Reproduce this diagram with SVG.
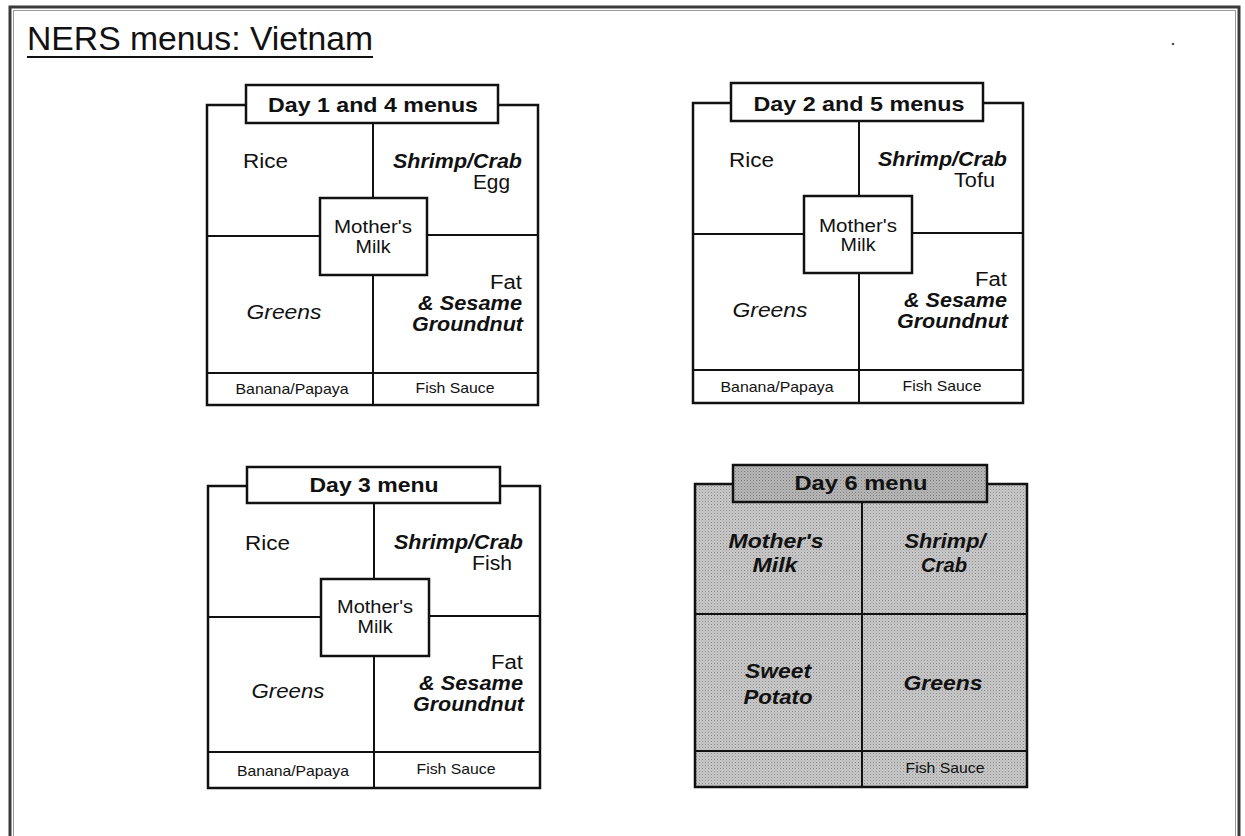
<svg xmlns="http://www.w3.org/2000/svg" width="1245" height="836" viewBox="0 0 1245 836">
<style>
.t{font-family:"Liberation Sans",Arial,Helvetica,sans-serif;fill:#111}
.b{font-weight:bold}
.i{font-style:italic}
.bi{font-weight:bold;font-style:italic}
.body{font-size:19.5px}
.sm{font-size:15px}
.mm{font-size:17.5px}
.hd{font-size:20.5px;font-weight:bold}
.frame{fill:#fff;stroke:#111;stroke-width:2.5}
.gframe{fill:url(#dots);stroke:#111;stroke-width:2.5}
.ln{stroke:#111;stroke-width:2;fill:none}
</style>
<defs>
<pattern id="dots" width="3" height="3" patternUnits="userSpaceOnUse">
<rect width="3" height="3" fill="#c8c8c8"/>
<rect x="0" y="0" width="1" height="1" fill="#8c8c8c"/>
<rect x="1.5" y="1.5" width="1" height="1" fill="#a8a8a8"/>
</pattern>
<pattern id="dots2" width="3" height="3" patternUnits="userSpaceOnUse">
<rect width="3" height="3" fill="#b6b6b6"/>
<rect x="0" y="0" width="1" height="1" fill="#7c7c7c"/>
<rect x="1.5" y="1.5" width="1" height="1" fill="#959595"/>
</pattern>
</defs>
<rect width="1245" height="836" fill="#fff"/>
<g id="page-frame">
<rect x="10" y="7" width="1229" height="845" fill="none" stroke="#3a3a3a" stroke-width="3"/>
<rect x="13.5" y="10.5" width="1222" height="840" fill="none" stroke="#999" stroke-width="1"/>
<circle cx="1173" cy="44" r="1.3" fill="#555"/>
</g>
<g id="title">
<text class="t" x="27" y="50" font-size="34" textLength="346" lengthAdjust="spacingAndGlyphs">NERS menus: Vietnam</text>
<line x1="27" y1="57" x2="373" y2="57" stroke="#111" stroke-width="2"/>
</g>

<g id="panel-day1-4">
<rect class="frame" x="207" y="105" width="331" height="300"/>
<g class="connectors">
<line class="ln" x1="373" y1="123" x2="373" y2="198"/>
<line class="ln" x1="373" y1="275" x2="373" y2="405"/>
<line class="ln" x1="207" y1="236" x2="320" y2="236"/>
<line class="ln" x1="427" y1="235" x2="538" y2="235"/>
<line class="ln" x1="207" y1="373" x2="538" y2="373"/>
</g>
<rect class="frame" x="320" y="198" width="107" height="77"/>
<rect class="frame" x="246" y="85" width="252" height="38"/>
<text class="t hd" x="373" y="112" text-anchor="middle" textLength="210" lengthAdjust="spacingAndGlyphs">Day 1 and 4 menus</text>
<text class="t body" x="243" y="168" textLength="45" lengthAdjust="spacingAndGlyphs">Rice</text>
<text class="t body bi" x="522" y="168" text-anchor="end" textLength="129" lengthAdjust="spacingAndGlyphs">Shrimp/Crab</text>
<text class="t body" x="510" y="189" text-anchor="end" textLength="37" lengthAdjust="spacingAndGlyphs">Egg</text>
<text class="t mm" x="373" y="233" text-anchor="middle" textLength="78" lengthAdjust="spacingAndGlyphs">Mother's</text>
<text class="t mm" x="373" y="253" text-anchor="middle" textLength="35" lengthAdjust="spacingAndGlyphs">Milk</text>
<text class="t body i" x="284" y="319" text-anchor="middle" textLength="75" lengthAdjust="spacingAndGlyphs">Greens</text>
<text class="t body" x="522" y="289" text-anchor="end" textLength="32" lengthAdjust="spacingAndGlyphs">Fat</text>
<text class="t body bi" x="522" y="310" text-anchor="end" textLength="104" lengthAdjust="spacingAndGlyphs">&amp; Sesame</text>
<text class="t body bi" x="523" y="331" text-anchor="end" textLength="111" lengthAdjust="spacingAndGlyphs">Groundnut</text>
<text class="t sm" x="292" y="394" text-anchor="middle" textLength="113" lengthAdjust="spacingAndGlyphs">Banana/Papaya</text>
<text class="t sm" x="455" y="393" text-anchor="middle" textLength="79" lengthAdjust="spacingAndGlyphs">Fish Sauce</text>
</g>

<g id="panel-day2-5">
<rect class="frame" x="693" y="103" width="330" height="300"/>
<g class="connectors">
<line class="ln" x1="859" y1="121" x2="859" y2="196"/>
<line class="ln" x1="859" y1="273" x2="859" y2="403"/>
<line class="ln" x1="693" y1="234" x2="804" y2="234"/>
<line class="ln" x1="912" y1="233" x2="1023" y2="233"/>
<line class="ln" x1="693" y1="370" x2="1023" y2="370"/>
</g>
<rect class="frame" x="804" y="196" width="108" height="77"/>
<rect class="frame" x="731" y="83" width="252" height="38"/>
<text class="t hd" x="859" y="111" text-anchor="middle" textLength="211" lengthAdjust="spacingAndGlyphs">Day 2 and 5 menus</text>
<text class="t body" x="729" y="167" textLength="45" lengthAdjust="spacingAndGlyphs">Rice</text>
<text class="t body bi" x="1007" y="166" text-anchor="end" textLength="129" lengthAdjust="spacingAndGlyphs">Shrimp/Crab</text>
<text class="t body" x="995" y="187" text-anchor="end" textLength="41" lengthAdjust="spacingAndGlyphs">Tofu</text>
<text class="t mm" x="858" y="232" text-anchor="middle" textLength="78" lengthAdjust="spacingAndGlyphs">Mother's</text>
<text class="t mm" x="858" y="251" text-anchor="middle" textLength="35" lengthAdjust="spacingAndGlyphs">Milk</text>
<text class="t body i" x="770" y="317" text-anchor="middle" textLength="75" lengthAdjust="spacingAndGlyphs">Greens</text>
<text class="t body" x="1007" y="286" text-anchor="end" textLength="32" lengthAdjust="spacingAndGlyphs">Fat</text>
<text class="t body bi" x="1007" y="307" text-anchor="end" textLength="103" lengthAdjust="spacingAndGlyphs">&amp; Sesame</text>
<text class="t body bi" x="1008" y="328" text-anchor="end" textLength="111" lengthAdjust="spacingAndGlyphs">Groundnut</text>
<text class="t sm" x="777" y="392" text-anchor="middle" textLength="113" lengthAdjust="spacingAndGlyphs">Banana/Papaya</text>
<text class="t sm" x="942" y="391" text-anchor="middle" textLength="79" lengthAdjust="spacingAndGlyphs">Fish Sauce</text>
</g>

<g id="panel-day3">
<rect class="frame" x="208" y="486" width="332" height="302"/>
<g class="connectors">
<line class="ln" x1="374" y1="503" x2="374" y2="579"/>
<line class="ln" x1="374" y1="656" x2="374" y2="788"/>
<line class="ln" x1="208" y1="617" x2="321" y2="617"/>
<line class="ln" x1="429" y1="616" x2="540" y2="616"/>
<line class="ln" x1="208" y1="752" x2="540" y2="752"/>
</g>
<rect class="frame" x="321" y="579" width="108" height="77"/>
<rect class="frame" x="247" y="467" width="253" height="36"/>
<text class="t hd" x="374" y="492" text-anchor="middle" textLength="129" lengthAdjust="spacingAndGlyphs">Day 3 menu</text>
<text class="t body" x="245" y="550" textLength="45" lengthAdjust="spacingAndGlyphs">Rice</text>
<text class="t body bi" x="523" y="549" text-anchor="end" textLength="129" lengthAdjust="spacingAndGlyphs">Shrimp/Crab</text>
<text class="t body" x="512" y="570" text-anchor="end" textLength="40" lengthAdjust="spacingAndGlyphs">Fish</text>
<text class="t mm" x="375" y="613" text-anchor="middle" textLength="76" lengthAdjust="spacingAndGlyphs">Mother's</text>
<text class="t mm" x="375" y="633" text-anchor="middle" textLength="35" lengthAdjust="spacingAndGlyphs">Milk</text>
<text class="t body i" x="288" y="698" text-anchor="middle" textLength="73" lengthAdjust="spacingAndGlyphs">Greens</text>
<text class="t body" x="523" y="669" text-anchor="end" textLength="32" lengthAdjust="spacingAndGlyphs">Fat</text>
<text class="t body bi" x="523" y="690" text-anchor="end" textLength="104" lengthAdjust="spacingAndGlyphs">&amp; Sesame</text>
<text class="t body bi" x="524" y="711" text-anchor="end" textLength="111" lengthAdjust="spacingAndGlyphs">Groundnut</text>
<text class="t sm" x="293" y="776" text-anchor="middle" textLength="112" lengthAdjust="spacingAndGlyphs">Banana/Papaya</text>
<text class="t sm" x="456" y="774" text-anchor="middle" textLength="79" lengthAdjust="spacingAndGlyphs">Fish Sauce</text>
</g>

<g id="panel-day6">
<rect class="gframe" x="695" y="484" width="332" height="303"/>
<g class="connectors">
<line class="ln" x1="862" y1="502" x2="862" y2="787"/>
<line class="ln" x1="695" y1="614" x2="1027" y2="614"/>
<line class="ln" x1="695" y1="751" x2="1027" y2="751"/>
</g>
<rect x="733" y="465" width="254" height="37" fill="url(#dots2)" stroke="#111" stroke-width="2.5"/>
<text class="t hd" x="861" y="490" text-anchor="middle" textLength="133" lengthAdjust="spacingAndGlyphs">Day 6 menu</text>
<text class="t body bi" x="776" y="548" text-anchor="middle" textLength="95" lengthAdjust="spacingAndGlyphs">Mother's</text>
<text class="t body bi" x="775" y="572" text-anchor="middle" textLength="45" lengthAdjust="spacingAndGlyphs">Milk</text>
<text class="t body bi" x="945" y="548" text-anchor="middle" textLength="81" lengthAdjust="spacingAndGlyphs">Shrimp/</text>
<text class="t body bi" x="944" y="572" text-anchor="middle" textLength="46" lengthAdjust="spacingAndGlyphs">Crab</text>
<text class="t body bi" x="778" y="678" text-anchor="middle" textLength="66" lengthAdjust="spacingAndGlyphs">Sweet</text>
<text class="t body bi" x="778" y="704" text-anchor="middle" textLength="69" lengthAdjust="spacingAndGlyphs">Potato</text>
<text class="t body bi" x="943" y="690" text-anchor="middle" textLength="79" lengthAdjust="spacingAndGlyphs">Greens</text>
<text class="t sm" x="945" y="773" text-anchor="middle" textLength="79" lengthAdjust="spacingAndGlyphs">Fish Sauce</text>
</g>
</svg>
